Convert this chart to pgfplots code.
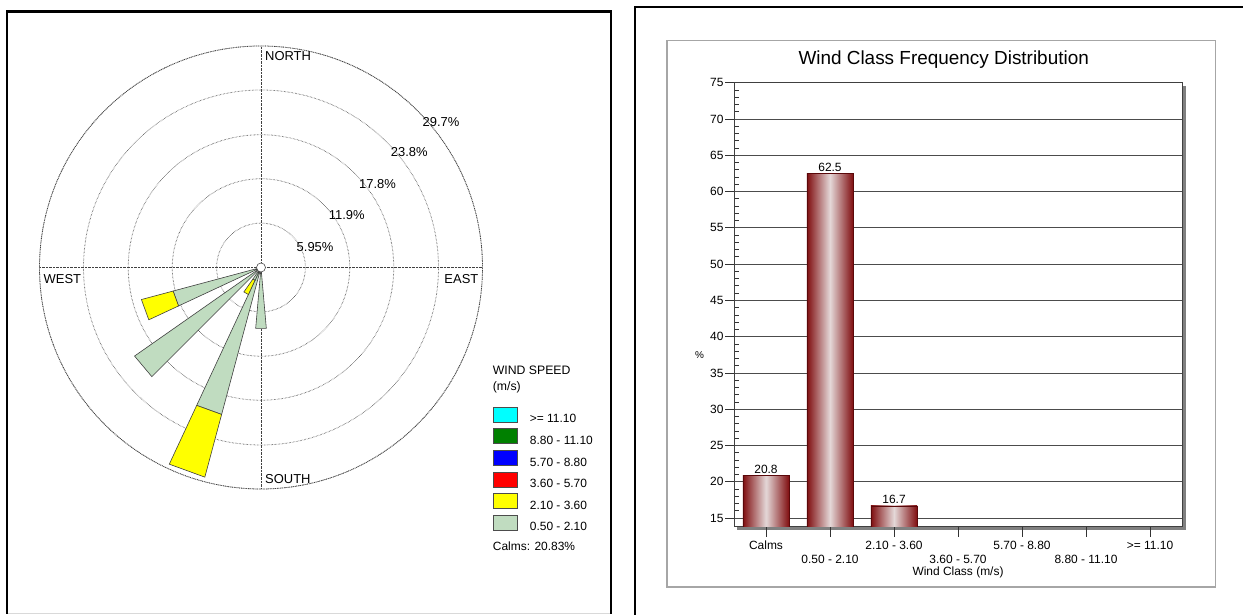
\documentclass[border=0pt]{standalone}
\usepackage{pgfplots}
\pgfplotsset{compat=1.18}
\usepgfplotslibrary{polar}
\usepackage{fontspec}
\setmainfont{Liberation Sans}
\definecolor{wrgreen}{RGB}{192,220,192}
\definecolor{wryellow}{RGB}{255,255,0}
\definecolor{wrred}{RGB}{255,0,0}
\definecolor{wrblue}{RGB}{0,0,255}
\definecolor{wrdgreen}{RGB}{0,128,0}
\definecolor{wrcyan}{RGB}{0,255,255}
\definecolor{barDark}{RGB}{128,14,16}
\definecolor{barLight}{RGB}{228,216,216}
\definecolor{barEdge}{RGB}{90,8,10}
\newcommand{\fsz}[1]{\fontsize{#1}{#1}\selectfont}
\pgfplotsset{shadedbar/.style={ybar, bar shift=0pt, left color=barDark, right color=barDark, middle color=barLight, draw=barEdge, line width=0.6bp}}
\begin{document}
\begin{tikzpicture}[x=1bp,y=1bp]
\useasboundingbox (0,0) rectangle (1243,615);
% ---------- left panel frame ----------
\draw[black!15, line width=1bp] (7,1) -- (611,1);
\draw[black, line width=2.5bp] (7,1) -- (7,603.7) -- (611,603.7) -- (611,1);
% ---------- wind rose ----------
\begin{polaraxis}[
  at={(261bp,347.5bp)}, anchor=center,
  width=443bp, height=443bp, scale only axis,
  ymin=0, ymax=29.7,
  xtick={0,90,180,270},
  ytick={5.95,11.9,17.8,23.8,29.7},
  xticklabels={,,,}, yticklabels={,,,,},
  xticklabel style={opacity=0}, yticklabel style={opacity=0},
  grid=major,
  major grid style={densely dotted, black!75, line width=0.8bp},
  axis line style={densely dotted, black!75, line width=0.8bp},
  y axis line style={draw=none},
  tick style={draw=none},
  clip=false,
  legend image code/.code={\draw[#1] (0bp,-3.3bp) rectangle (24bp,11.7bp);},
  legend style={draw=none, fill=none, inner sep=0pt,
    at={(1.023,0.186)}, anchor=north west,
    font=\fsz{12}, row sep=5.5bp, column sep=12.6bp,
    nodes={inner sep=0pt, text depth=0pt}, cells={anchor=west}},
]
% direction 180 (math 270)
\addplot[draw=black!75, line width=0.6bp, fill=wrgreen, forget plot] coordinates {(0,0) (265,8.2) (275,8.2)} -- cycle;
% direction 200 (math 250)
\addplot[draw=black!75, line width=0.6bp, fill=wrgreen, forget plot] coordinates {(0,0) (245,20.4) (255,20.4)} -- cycle;
\addplot[draw=black!75, line width=0.6bp, fill=wryellow, forget plot] coordinates {(245,20.4) (255,20.4) (255,29.1) (245,29.1)} -- cycle;
% direction 210 (math 240)
\addplot[draw=black!75, line width=0.6bp, fill=wrgreen, forget plot] coordinates {(0,0) (235,1.9) (245,1.9)} -- cycle;
\addplot[draw=black!75, line width=0.6bp, fill=wryellow, forget plot] coordinates {(235,1.9) (245,1.9) (245,4.0) (235,4.0)} -- cycle;
% direction 230 (math 220)
\addplot[draw=black!75, line width=0.6bp, fill=wrgreen, forget plot] coordinates {(0,0) (215,20.7) (225,20.7)} -- cycle;
% direction 250 (math 200)
\addplot[draw=black!75, line width=0.6bp, fill=wrgreen, forget plot] coordinates {(0,0) (195,12.2) (205,12.2)} -- cycle;
\addplot[draw=black!75, line width=0.6bp, fill=wryellow, forget plot] coordinates {(195,12.2) (205,12.2) (205,16.6) (195,16.6)} -- cycle;
\draw[fill=white, draw=black!70, line width=0.6bp] (axis cs:0,0) circle[radius=4.5bp];
\addlegendimage{fill=wrcyan, draw=black!70}
\addlegendentry{>= 11.10}
\addlegendimage{fill=wrdgreen, draw=black!70}
\addlegendentry{8.80 - 11.10}
\addlegendimage{fill=wrblue, draw=black!70}
\addlegendentry{5.70 - 8.80}
\addlegendimage{fill=wrred, draw=black!70}
\addlegendentry{3.60 - 5.70}
\addlegendimage{fill=wryellow, draw=black!70}
\addlegendentry{2.10 - 3.60}
\addlegendimage{fill=wrgreen, draw=black!70}
\addlegendentry{0.50 - 2.10}
\end{polaraxis}
\node[anchor=west, inner sep=0pt, font=\fsz{13}] at (265,558.8) {NORTH};
\node[anchor=west, inner sep=0pt, font=\fsz{13}] at (43.5,336) {WEST};
\node[anchor=east, inner sep=0pt, font=\fsz{13}] at (478.5,336) {EAST};
\node[anchor=west, inner sep=0pt, font=\fsz{13}] at (265,135.6) {SOUTH};
\node[inner sep=0pt, font=\fsz{13}] at (441,493.2) {29.7\%};
\node[inner sep=0pt, font=\fsz{13}] at (409.3,462.5) {23.8\%};
\node[inner sep=0pt, font=\fsz{13}] at (377.6,431.1) {17.8\%};
\node[inner sep=0pt, font=\fsz{13}] at (346.8,399.7) {11.9\%};
\node[inner sep=0pt, font=\fsz{13}] at (315.1,368.2) {5.95\%};
\node[anchor=west, inner sep=0pt, font=\fsz{12.3}] at (492.7,244.3) {WIND SPEED};
\node[anchor=west, inner sep=0pt, font=\fsz{12.3}] at (492.7,227.7) {(m/s)};
\node[anchor=west, inner sep=0pt, font=\fsz{12}] at (492.7,69) {Calms: 20.83\%};
% ---------- right panel frames ----------
\draw[black, line width=2.5bp] (635,-3) -- (635,608) -- (1250,608);
\draw[black!35, line width=1.2bp] (667,28) rectangle (1215.7,574.5);
% shadow of plot area
\fill[black!50] (737,85) rectangle (1185.5,529.3);
% ---------- bar chart ----------
\begin{axis}[
  at={(734bp,88bp)}, anchor=south west,
  width=448bp, height=444.3bp, scale only axis,
  xmin=-0.5, xmax=6.5, ymin=13.76, ymax=75,
  axis background/.style={fill=white},
  xtick={0,1,2,3,4,5,6},
  xticklabels={{\strut Calms},{\strut\\0.50 - 2.10},{\strut 2.10 - 3.60},{\strut\\3.60 - 5.70},{\strut 5.70 - 8.80},{\strut\\8.80 - 11.10},{\strut >= 11.10}},
  xticklabel style={align=center, anchor=north, font=\fontsize{12}{13.8}\selectfont, inner sep=0pt, yshift=-3bp},
  ytick={15,20,...,75},
  minor y tick num=4,
  yticklabel style={font=\fsz{12}, xshift=-2bp},
  /pgf/number format/assume math mode=true,
  ymajorgrids,
  major grid style={black!70, line width=0.7bp},
  axis line style={black!75, line width=1bp},
  tick style={black!80, line width=0.7bp},
  tick align=center,
  major tick length=10bp, minor tick length=5bp,
  major y tick style={xshift=-4bp},
  minor y tick style={xshift=2.5bp},
  xtick pos=bottom, ytick pos=left,
  title={Wind Class Frequency Distribution},
  title style={at={(axis description cs:0.468,1.0376)}, anchor=center, font=\fsz{19}},
  xlabel={Wind Class (m/s)},
  xlabel style={at={(axis description cs:0.5,-0.1024)}, anchor=center, font=\fsz{12}},
  ylabel={\%},
  ylabel style={rotate=-90, at={(axis description cs:-0.077,0.3876)}, anchor=center, font=\fsz{10}},
  ybar, bar width=0.72,
  nodes near coords,
  nodes near coords style={font=\fsz{12}, inner sep=1.5bp, /pgf/number format/fixed, /pgf/number format/precision=1},
]
\addplot[shadedbar] coordinates {(0,20.83)};
\addplot[shadedbar] coordinates {(1,62.5)};
\addplot[shadedbar] coordinates {(2,16.67)};
\end{axis}
\end{tikzpicture}
\end{document}
